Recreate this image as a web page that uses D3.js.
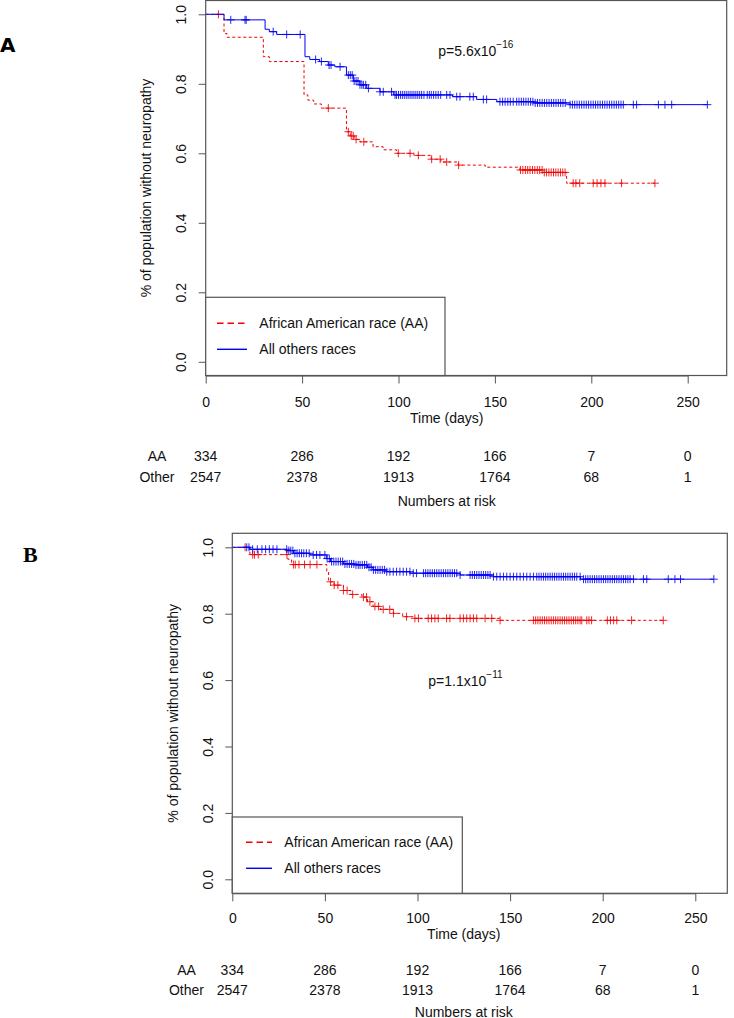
<!DOCTYPE html>
<html>
<head>
<meta charset="utf-8">
<script src="https://cdn.jsdelivr.net/npm/d3@7"></script>
<style>
  html, body { margin: 0; padding: 0; background: #fff; }
  svg { display: block; }
  text { font-family: "Liberation Sans", Arial, Helvetica, sans-serif; fill: #111; }
  text.letter-sans { font-family: "DejaVu Sans", "Liberation Sans", sans-serif; font-weight: bold; fill: #000; }
  text.letter-serif { font-family: "Liberation Serif", "Times New Roman", serif; font-weight: bold; fill: #000; }
</style>
</head>
<body>
<svg id="chart" width="734" height="1018"></svg>
<script>
// ---------------- DATA ----------------
const xTicks = [0, 50, 100, 150, 200, 250];
const yTicks = [0, 0.2, 0.4, 0.6, 0.8, 1.0];
const riskTimes = [0, 50, 100, 150, 200, 250];
const riskAA = [334, 286, 192, 166, 7, 0];
const riskOther = [2547, 2378, 1913, 1764, 68, 1];
const seriesNames = ["African American race (AA)", "All others races"];
const riskLabels = ["AA", "Other"];

// Panel A: Kaplan-Meier steps (time in days, survival after step)
const aAATime = [0, 9.5, 11, 29.9, 33, 51, 53, 56, 60, 73, 75, 77, 80, 86.8, 92, 99, 108, 117, 122, 131, 145, 163, 175, 187.2];
const aAASurv = [1, 0.945, 0.934, 0.878, 0.864, 0.768, 0.753, 0.742, 0.730, 0.662, 0.650, 0.640, 0.633, 0.619, 0.610, 0.600, 0.594, 0.583, 0.575, 0.566, 0.560, 0.552, 0.545, 0.514];
const aAACensor = [6.6, 63.6, 74, 75.5, 76.5, 78, 82, 99.9, 106, 110.3, 117.2, 121.6, 125, 131.2,
  163.3, 164.5, 165.8, 167, 168.2, 169.5, 170.7, 172, 173.2, 174.5, 175.6, 176.8, 178, 179.2, 180.4, 181.6, 182.8, 184, 185.2, 186.4,
  190.6, 192, 194, 201, 203, 205, 207.1, 215.7, 233];
const aOtherTime = [0, 9.5, 30.8, 33, 36.8, 51.5, 54, 59, 63.6, 67, 73, 76.6, 80, 83.5, 90.4, 97.5, 128, 140.5, 151, 170, 189];
const aOtherSurv = [1, 0.984, 0.957, 0.950, 0.942, 0.878, 0.870, 0.864, 0.854, 0.849, 0.825, 0.808, 0.797, 0.787, 0.777, 0.768, 0.763, 0.755, 0.7485, 0.745, 0.740];
const aOtherCensor = [13, 20.4, 21, 35, 42, 49, 57, 60, 64, 65, 69.7, 74, 75, 76, 77, 78, 79, 80, 81, 81.8, 83, 84.4, 90.4, 92.1, 96.4, 98.2,
  99, 100, 101, 102, 103, 104, 105, 106, 107, 108, 109, 110, 111, 112, 113.2, 114.9, 116, 117, 118.2, 119.4, 120.6, 121.9,
  125, 126.7, 130.2, 131.9, 137, 138.8, 144, 145.7, 152.6, 154, 155.3, 156.7, 158, 159.5,
  161.3, 162.5, 163.7, 164.9, 166.1, 167.3, 168.5, 169.7, 170.9, 172.1, 173.3, 174.5, 175.7, 176.9, 178.1, 179.3, 180.5, 181.7, 182.9, 184.1, 185.3, 186.5,
  189, 190.2, 191.4, 192.6, 193.8, 195, 196.2, 197.4, 198.6, 199.8, 201, 202.2, 203.4, 204.6, 205.8, 207, 208.2, 209.4, 210.6, 211.8, 213, 214.2, 215.4, 216.6,
  221.8, 223.5, 234.8, 238.2, 241.7, 260.2];

// Panel B
const bAATime = [0, 9.5, 30, 32, 51, 52, 55, 60, 64, 70, 73, 76, 80, 87, 92, 98, 144.5];
const bAASurv = [1, 0.978, 0.964, 0.948, 0.926, 0.896, 0.886, 0.870, 0.858, 0.850, 0.836, 0.822, 0.813, 0.801, 0.791, 0.786, 0.780];
const bAACensor = [6.9, 11, 12, 14, 29.5, 33, 34, 36, 39, 42, 45.7, 53, 55, 57, 60, 62, 65, 70.8, 72.5, 74.3, 77, 79, 81.5, 85, 87,
  94.1, 98.6, 100.5, 105.8, 107.6, 109.4, 111.2, 115.7, 117.5, 123, 124.8, 126.6, 128.4, 130.2, 132, 136.5, 140.1, 144.6,
  162.6, 163.8, 165, 166.2, 167.4, 168.6, 169.8, 171, 172.2, 173.4, 174.6, 175.8, 177, 178.2, 179.4, 180.6, 181.8, 183, 184.2, 185.4, 186.6, 187.8, 188.7,
  191.4, 192.6, 194, 202.5, 204.2, 205.9, 207.6, 215.6, 232.7];
const bOtherTime = [0, 9.5, 29.5, 33, 42, 51, 53, 60, 66, 73, 76, 83, 96, 123, 141, 188];
const bOtherSurv = [1, 0.994, 0.990, 0.982, 0.977, 0.966, 0.957, 0.950, 0.947, 0.940, 0.932, 0.9265, 0.922, 0.9166, 0.9115, 0.904];
const bOtherCensor = [7.8, 9, 11, 13.5, 16, 18, 20, 22, 24.1, 29.4, 30.5, 31.6, 32.7, 33.8, 35, 36.2, 37.4, 38.6, 40, 41.5, 43.7, 45.5, 47.3,
  50, 51.2, 52.4, 53.6, 54.8, 56, 57.2, 58.4, 59.6, 60.8, 62, 63.2, 64.4, 65.6, 66.8, 68, 69, 70.2, 71.4, 72.6, 73.8, 75, 76.2, 77.4, 78.6, 79.8, 81, 82.2, 83.4, 85.1,
  86.9, 88.7, 90.5, 92.3, 94.1, 95.9, 97.7, 99.5, 103.2, 104.4, 105.6, 106.8, 108, 109.2, 110.4, 111.6, 112.8, 114, 115.2, 116.4, 117.6, 118.8, 120, 121.2, 123,
  128.4, 129.6, 130.8, 132, 133.2, 134.4, 135.6, 136.8, 138, 139.2, 141, 142.8, 144.6, 146.4, 148.2, 150, 151.8, 153.6, 155.4, 157.2, 159, 160.8, 162.6,
  164.4, 165.6, 166.8, 168, 169.2, 170.4, 171.6, 172.8, 174, 175.2, 176.4, 177.6, 178.8, 180, 181.2, 182.4, 183.6, 184.8, 186, 187.8,
  189.6, 190.8, 192, 193.2, 194.4, 195.6, 196.8, 198, 199.2, 200.4, 201.6, 202.8, 204, 205.2, 206.4, 207.6, 208.8, 210, 211.2, 212.4, 213.6, 214.8, 216.6,
  222, 223.8, 235.4, 239, 242, 260];

const pA = { mant: "p=5.6x10", exp: "\u221216" };
const pB = { mant: "p=1.1x10", exp: "\u221211" };

// ---------------- DRAWING ----------------
const svg = d3.select("#chart");
const RED = "#f00000", BLUE = "#0000f0", BOXC = "#555";

function stepValue(times, surv, t) {
  let v = surv[0];
  for (let i = 0; i < times.length; i++) { if (times[i] <= t) v = surv[i]; else break; }
  return v;
}

function drawPanel(cfg) {
  const g = svg.append("g");
  const x = d3.scaleLinear().domain([0, 250]).range([cfg.x0, cfg.x250]);
  const y = d3.scaleLinear().domain([0, 1]).range([cfg.y0, cfg.y1]);

  // panel letter
  g.append("text").attr("class", cfg.letterClass).attr("x", cfg.letterX).attr("y", cfg.letterY)
    .attr("font-size", cfg.letterSize).style("font-size", cfg.letterSize + "px").text(cfg.letter);

  // curves
  const series = [
    { time: cfg.aaTime, surv: cfg.aaSurv, cens: cfg.aaCens, color: RED, dash: "3,2.5" },
    { time: cfg.otTime, surv: cfg.otSurv, cens: cfg.otCens, color: BLUE, dash: null }
  ];
  const line = d3.line().x(d => x(d[0])).y(d => y(d[1])).curve(d3.curveStepAfter);
  series.forEach(s => {
    const pts = s.time.map((t, i) => [t, s.surv[i]]);
    const tEnd = Math.max(d3.max(s.time), d3.max(s.cens));
    pts.push([tEnd, s.surv[s.surv.length - 1]]);
    g.append("path").attr("d", line(pts)).attr("fill", "none")
      .attr("stroke", s.color).attr("stroke-width", 1)
      .attr("stroke-dasharray", s.dash);
    const h = 4;
    g.append("g").selectAll("path").data(s.cens).join("path")
      .attr("d", t => {
        const cx = x(t), cy = y(stepValue(s.time, s.surv, t));
        return `M${cx - h},${cy}H${cx + h}M${cx},${cy - h}V${cy + h}`;
      })
      .attr("stroke", s.color).attr("stroke-width", 1).attr("opacity", 0.85);
  });

  // box
  g.append("rect").attr("x", cfg.x0).attr("y", cfg.boxTop)
    .attr("width", cfg.boxRight - cfg.x0).attr("height", cfg.boxBottom - cfg.boxTop)
    .attr("fill", "none").attr("stroke", BOXC).attr("stroke-width", 1.2);

  // x axis
  const xa = g.append("g").attr("transform", `translate(0,${cfg.boxBottom})`)
    .call(d3.axisBottom(x).tickValues(xTicks).tickSize(8).tickSizeOuter(0).tickPadding(0).tickFormat(d3.format("d")));
  xa.select(".domain").attr("stroke", BOXC);
  xa.selectAll(".tick line").attr("stroke", BOXC);
  xa.selectAll(".tick text").attr("y", cfg.xLabelBase - cfg.boxBottom).attr("dy", null)
    .style("font-size", "14px").style("font-family", "Liberation Sans, Arial, sans-serif").attr("fill", "#111");

  // y axis
  const ya = g.append("g").attr("transform", `translate(${cfg.x0},0)`)
    .call(d3.axisLeft(y).tickValues(yTicks).tickSize(7).tickFormat(d3.format(".1f")));
  ya.select(".domain").remove();
  ya.selectAll(".tick line").attr("stroke", BOXC);
  ya.selectAll(".tick text")
    .attr("x", null).attr("dy", null)
    .attr("transform", `translate(${cfg.yLabelBase - cfg.x0},0) rotate(-90)`)
    .attr("text-anchor", "middle").attr("fill", "#111")
    .style("font-size", "14px").style("font-family", "Liberation Sans, Arial, sans-serif");

  // axis titles
  g.append("text").attr("x", cfg.xTitleX).attr("y", cfg.xTitleBase).attr("text-anchor", "middle")
    .style("font-size", "14px").text("Time (days)");
  g.append("text").attr("transform", `translate(${cfg.yTitleBase},${(cfg.boxTop + cfg.boxBottom) / 2}) rotate(-90)`)
    .attr("text-anchor", "middle").style("font-size", "14px").text("% of population without neuropathy");

  // p value
  const pt = g.append("text").attr("x", cfg.pX).attr("y", cfg.pBase).style("font-size", "14px");
  pt.append("tspan").text(cfg.p.mant);
  pt.append("tspan").attr("dy", -8).style("font-size", "10px").text(cfg.p.exp);

  // legend
  g.append("rect").attr("x", cfg.x0).attr("y", cfg.legTop)
    .attr("width", cfg.legRight - cfg.x0).attr("height", cfg.boxBottom - cfg.legTop)
    .attr("fill", "#fff").attr("stroke", BOXC).attr("stroke-width", 1.2);
  const legCols = [RED, BLUE], legDash = ["6.5,4", null];
  seriesNames.forEach((name, i) => {
    const ly = cfg.legY[i];
    g.append("line").attr("x1", cfg.legLineX1).attr("x2", cfg.legLineX2).attr("y1", ly).attr("y2", ly)
      .attr("stroke", legCols[i]).attr("stroke-width", 1.4).attr("stroke-dasharray", legDash[i]);
    g.append("text").attr("x", cfg.legTextX).attr("y", ly + 4.8).style("font-size", "14px").text(name);
  });

  // numbers at risk
  [riskAA, riskOther].forEach((row, r) => {
    g.append("text").attr("x", cfg.riskLabelX).attr("y", cfg.riskBase[r]).attr("text-anchor", "middle")
      .style("font-size", "14px").text(riskLabels[r]);
    g.append("g").selectAll("text").data(row).join("text")
      .attr("x", (d, i) => x(riskTimes[i])).attr("y", cfg.riskBase[r]).attr("text-anchor", "middle")
      .style("font-size", "14px").text(d => d);
  });
  g.append("text").attr("x", cfg.xTitleX).attr("y", cfg.riskTitleBase).attr("text-anchor", "middle")
    .style("font-size", "14px").text("Numbers at risk");
}

drawPanel({
  letter: "A", letterX: 0, letterY: 52, letterSize: 20, letterClass: "letter-sans",
  x0: 205.7, x250: 687.7, boxRight: 726.7, y0: 361.8, y1: 14.3, boxTop: 0.5, boxBottom: 375.5,
  xLabelBase: 406.7, xTitleX: 446.7, xTitleBase: 423, yLabelBase: 186.3, yTitleBase: 151,
  pX: 438.3, pBase: 55.5, p: pA,
  legTop: 297.3, legRight: 445, legY: [323.3, 349.3], legLineX1: 217, legLineX2: 247, legTextX: 259.3,
  riskLabelX: 157, riskBase: [461, 481.7], riskTitleBase: 506,
  aaTime: aAATime, aaSurv: aAASurv, aaCens: aAACensor, otTime: aOtherTime, otSurv: aOtherSurv, otCens: aOtherCensor
});

drawPanel({
  letter: "B", letterX: 23, letterY: 562, letterSize: 22, letterClass: "letter-serif",
  x0: 232.3, x250: 695.3, boxRight: 727.3, y0: 879.3, y1: 547.3, boxTop: 533.3, boxBottom: 893.3,
  xLabelBase: 923.3, xTitleX: 463.8, xTitleBase: 938.5, yLabelBase: 213, yTitleBase: 178,
  pX: 428.3, pBase: 685.7, p: pB,
  legTop: 817, legRight: 462.3, legY: [842.3, 868.3], legLineX1: 246, legLineX2: 272, legTextX: 284.3,
  riskLabelX: 186.5, riskBase: [975, 995], riskTitleBase: 1016.5,
  aaTime: bAATime, aaSurv: bAASurv, aaCens: bAACensor, otTime: bOtherTime, otSurv: bOtherSurv, otCens: bOtherCensor
});
</script>
</body>
</html>
